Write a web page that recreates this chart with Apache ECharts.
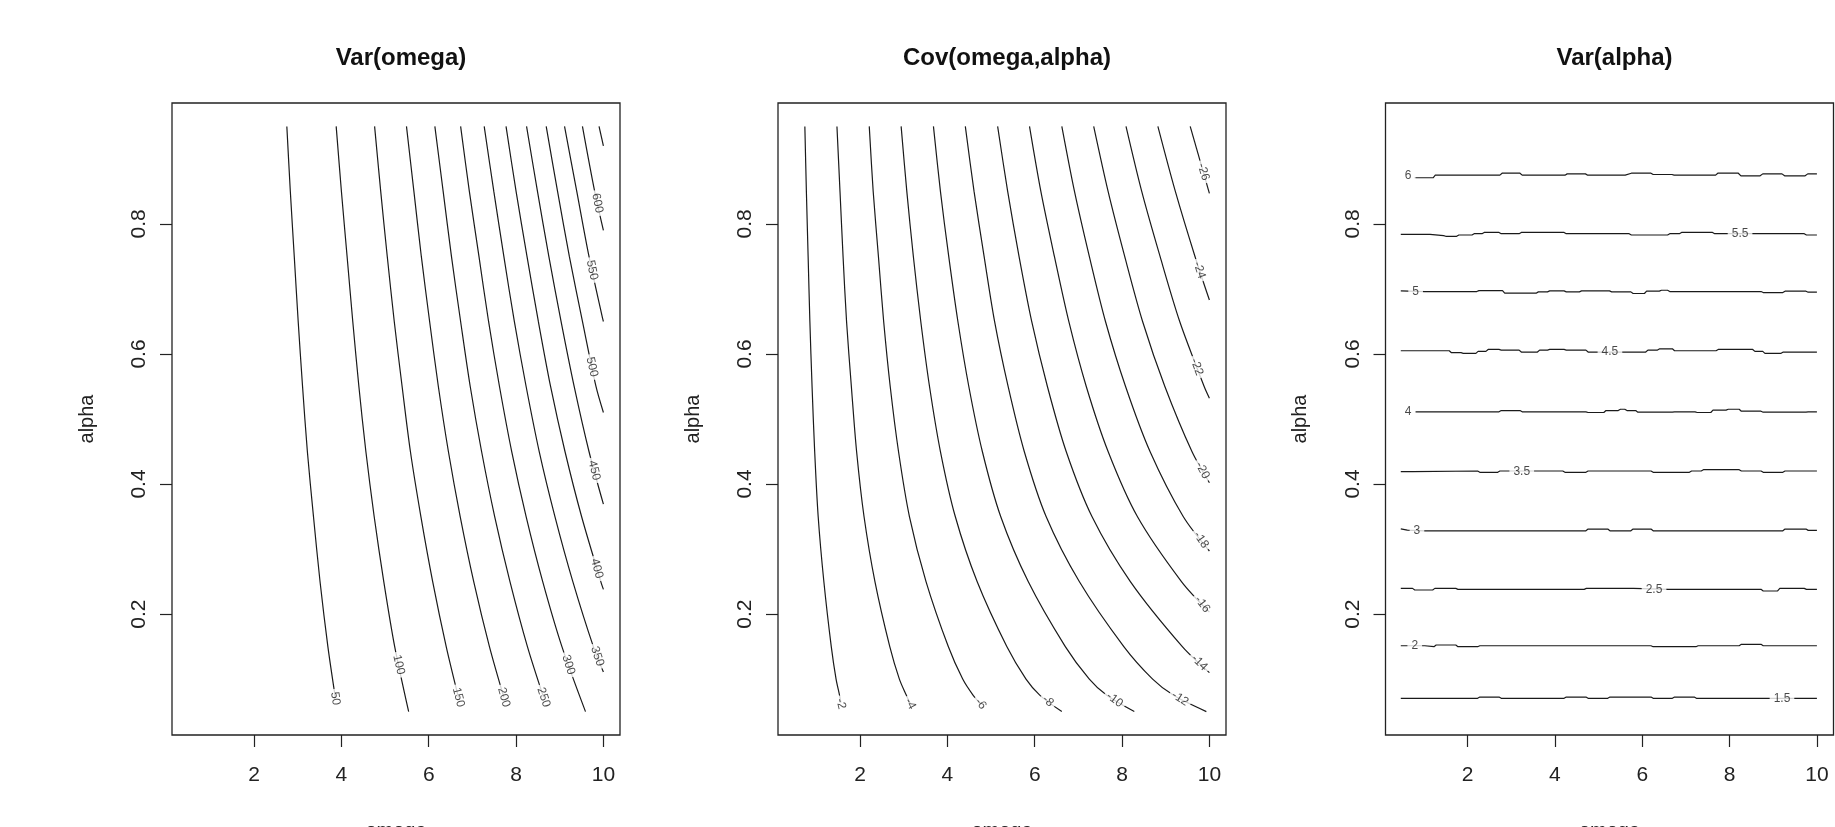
<!DOCTYPE html>
<html>
<head>
<meta charset="utf-8">
<script src="https://cdn.jsdelivr.net/npm/echarts@6/dist/echarts.min.js"></script>
<style>
html,body{margin:0;padding:0;background:#fff;}
#c{width:1835px;height:827px;}
</style>
</head>
<body>
<div id="c"></div>
<script>
// ---------- shared axis data ----------
const panelTitles = ['Var(omega)', 'Cov(omega,alpha)', 'Var(alpha)'];
const xTicks = [2, 4, 6, 8, 10];
const yTicks = [0.2, 0.4, 0.6, 0.8];
const xRange = [0.12, 10.38];
const yRange = [0.014, 0.986];

// ---------- panel 1 : Var(omega) contour lines [omega, alpha] ----------
const vo50  = [[2.75,0.95],[2.83,0.85],[2.92,0.75],[3.01,0.65],[3.11,0.55],[3.22,0.45],[3.36,0.35],[3.51,0.25],[3.69,0.15],[3.86,0.072]];
const vo100 = [[3.88,0.95],[4.00,0.85],[4.13,0.75],[4.26,0.65],[4.40,0.55],[4.56,0.45],[4.75,0.35],[4.97,0.25],[5.22,0.15],[5.54,0.05]];
const vo150 = [[4.76,0.95],[4.90,0.85],[5.05,0.75],[5.21,0.65],[5.39,0.55],[5.58,0.45],[5.82,0.35],[6.09,0.25],[6.40,0.15],[6.68,0.072]];
const vo200 = [[5.49,0.95],[5.66,0.85],[5.83,0.75],[6.02,0.65],[6.22,0.55],[6.45,0.45],[6.72,0.35],[7.03,0.25],[7.39,0.15],[7.72,0.072]];
const vo250 = [[6.14,0.95],[6.33,0.85],[6.52,0.75],[6.73,0.65],[6.95,0.55],[7.21,0.45],[7.51,0.35],[7.86,0.25],[8.26,0.15],[8.63,0.072]];
const vo300 = [[6.73,0.95],[6.93,0.85],[7.15,0.75],[7.37,0.65],[7.62,0.55],[7.90,0.45],[8.23,0.35],[8.61,0.25],[9.05,0.15],[9.59,0.05]];
const vo350 = [[7.27,0.95],[7.49,0.85],[7.72,0.75],[7.96,0.65],[8.23,0.55],[8.53,0.45],[8.89,0.35],[9.30,0.25],[9.77,0.15],[10,0.111]];
const vo400 = [[7.77,0.95],[8.00,0.85],[8.25,0.75],[8.51,0.65],[8.79,0.55],[9.12,0.45],[9.50,0.35],[9.94,0.25],[10,0.238]];
const vo450 = [[8.24,0.95],[8.49,0.85],[8.75,0.75],[9.03,0.65],[9.33,0.55],[9.67,0.45],[10,0.369]];
const vo500 = [[8.69,0.95],[8.95,0.85],[9.22,0.75],[9.52,0.65],[9.83,0.55],[10,0.51]];
const vo550 = [[9.11,0.95],[9.39,0.85],[9.67,0.75],[9.98,0.655],[10,0.65]];
const vo600 = [[9.52,0.95],[9.80,0.85],[10,0.79]];
const vo650 = [[9.90,0.95],[10,0.92]];
const varOmegaLines = [vo50, vo100, vo150, vo200, vo250, vo300, vo350, vo400, vo450, vo500, vo550, vo600, vo650];
const varOmegaLabelText = ['50','100','150','200','250','300','350','400','450','500','550','600'];
const varOmegaLabelPos = [[3.86,0.07],[5.31,0.122],[6.68,0.072],[7.72,0.072],[8.63,0.072],[9.20,0.122],[9.86,0.135],[9.85,0.27],[9.79,0.421],[9.74,0.58],[9.74,0.729],[9.86,0.832]];

// ---------- panel 2 : Cov(omega,alpha) contour lines ----------
const cv2  = [[0.735,0.95],[0.77,0.85],[0.81,0.75],[0.85,0.65],[0.90,0.55],[0.96,0.45],[1.04,0.35],[1.17,0.25],[1.34,0.15],[1.45,0.10],[1.53,0.075],[1.56,0.064]];
const cv4  = [[1.47,0.95],[1.54,0.85],[1.61,0.75],[1.69,0.65],[1.80,0.55],[1.92,0.45],[2.09,0.35],[2.34,0.25],[2.68,0.15],[2.90,0.10],[3.06,0.075],[3.15,0.062]];
const cv6  = [[2.21,0.95],[2.30,0.85],[2.42,0.75],[2.54,0.65],[2.69,0.55],[2.88,0.45],[3.13,0.35],[3.51,0.25],[4.02,0.15],[4.35,0.10],[4.59,0.075],[4.76,0.062]];
const cv8  = [[2.94,0.95],[3.07,0.85],[3.22,0.75],[3.39,0.65],[3.59,0.55],[3.84,0.45],[4.18,0.35],[4.68,0.25],[5.36,0.15],[5.80,0.10],[6.12,0.075],[6.62,0.05]];
const cv10 = [[3.68,0.95],[3.84,0.85],[4.03,0.75],[4.24,0.65],[4.49,0.55],[4.80,0.45],[5.22,0.35],[5.85,0.25],[6.70,0.15],[7.25,0.10],[7.65,0.075],[8.28,0.05]];
const cv12 = [[4.41,0.95],[4.61,0.85],[4.84,0.75],[5.08,0.65],[5.39,0.55],[5.76,0.45],[6.26,0.35],[7.02,0.25],[8.04,0.15],[8.70,0.10],[9.18,0.075],[9.93,0.05]];
const cv14 = [[5.15,0.95],[5.38,0.85],[5.64,0.75],[5.93,0.65],[6.29,0.55],[6.72,0.45],[7.31,0.35],[8.19,0.25],[9.38,0.15],[10,0.11]];
const cv16 = [[5.88,0.95],[6.14,0.85],[6.45,0.75],[6.78,0.65],[7.18,0.55],[7.68,0.45],[8.35,0.35],[9.36,0.25],[10,0.203]];
const cv18 = [[6.62,0.95],[6.91,0.85],[7.25,0.75],[7.62,0.65],[8.08,0.55],[8.64,0.45],[9.40,0.35],[10,0.297]];
const cv20 = [[7.35,0.95],[7.68,0.85],[8.06,0.75],[8.47,0.65],[8.98,0.55],[9.60,0.45],[10,0.402]];
const cv22 = [[8.09,0.95],[8.45,0.85],[8.87,0.75],[9.32,0.65],[9.88,0.55],[10,0.532]];
const cv24 = [[8.82,0.95],[9.22,0.85],[9.67,0.75],[10,0.683]];
const cv26 = [[9.56,0.95],[10,0.847]];
const covLines = [cv2, cv4, cv6, cv8, cv10, cv12, cv14, cv16, cv18, cv20, cv22, cv24, cv26];
const covLabelText = ['-2','-4','-6','-8','-10','-12','-14','-16','-18','-20','-22','-24','-26'];
const covLabelPos = [[1.56,0.062],[3.15,0.062],[4.76,0.062],[6.30,0.066],[7.83,0.068],[9.33,0.070],[9.77,0.125],[9.84,0.215],[9.81,0.314],[9.84,0.421],[9.71,0.58],[9.77,0.729],[9.86,0.88]];

// ---------- panel 3 : Var(alpha) contour lines ----------
const va60 = [[0.78,0.871],[1.21,0.871],[1.26,0.875],[2.74,0.875],[2.79,0.878],[3.20,0.878],[3.25,0.875],[4.23,0.875],[4.28,0.877],[4.70,0.877],[4.75,0.875],[5.61,0.875],[5.75,0.878],[6.20,0.878],[6.25,0.876],[6.68,0.876],[6.73,0.875],[7.68,0.875],[7.73,0.878],[8.20,0.878],[8.26,0.874],[8.70,0.874],[8.76,0.877],[9.20,0.877],[9.26,0.874],[9.73,0.874],[9.79,0.877],[10,0.877]];
const va55 = [[0.47,0.784],[1.14,0.784],[1.18,0.782],[1.45,0.782],[1.50,0.781],[1.75,0.781],[1.80,0.783],[2.10,0.783],[2.15,0.785],[2.33,0.785],[2.38,0.787],[2.72,0.787],[2.77,0.785],[3.18,0.785],[3.23,0.787],[4.21,0.787],[4.26,0.785],[5.70,0.785],[5.75,0.783],[6.58,0.783],[6.63,0.785],[6.85,0.785],[6.90,0.787],[7.61,0.787],[7.66,0.785],[9.71,0.785],[9.76,0.783],[10,0.783]];
const va50 = [[0.47,0.697],[1.02,0.696],[2.21,0.696],[2.26,0.6975],[2.80,0.6975],[2.85,0.6935],[3.57,0.6935],[3.62,0.6955],[3.83,0.6955],[3.88,0.697],[4.21,0.697],[4.26,0.6955],[4.56,0.6955],[4.61,0.697],[5.25,0.697],[5.30,0.6955],[5.74,0.6955],[5.79,0.693],[6.05,0.693],[6.10,0.6966],[6.39,0.6966],[6.44,0.698],[6.58,0.698],[6.63,0.696],[8.72,0.696],[8.77,0.6945],[9.22,0.6945],[9.27,0.6966],[9.75,0.6966],[9.80,0.695],[10,0.695]];
const va45 = [[0.47,0.605],[1.58,0.605],[1.63,0.602],[1.85,0.602],[1.90,0.601],[2.19,0.601],[2.24,0.604],[2.42,0.604],[2.47,0.607],[2.72,0.607],[2.77,0.606],[3.18,0.606],[3.23,0.603],[3.60,0.603],[3.65,0.606],[3.83,0.606],[3.88,0.607],[4.21,0.607],[4.26,0.606],[4.71,0.606],[4.76,0.603],[6.08,0.603],[6.13,0.606],[6.35,0.606],[6.40,0.608],[6.69,0.608],[6.74,0.605],[7.69,0.605],[7.74,0.607],[8.53,0.607],[8.58,0.604],[8.76,0.604],[8.81,0.601],[9.18,0.601],[9.23,0.603],[10,0.603]];
const va40 = [[0.80,0.511],[2.72,0.511],[2.77,0.513],[3.20,0.513],[3.25,0.511],[4.71,0.511],[4.76,0.510],[5.12,0.510],[5.17,0.513],[5.45,0.513],[5.50,0.515],[5.60,0.515],[5.65,0.513],[5.85,0.513],[5.90,0.5105],[6.69,0.5105],[6.74,0.511],[7.21,0.511],[7.26,0.510],[7.57,0.510],[7.62,0.5136],[7.92,0.5136],[7.97,0.515],[8.22,0.515],[8.27,0.512],[8.72,0.512],[8.77,0.5105],[9.75,0.5105],[9.80,0.511],[10,0.511]];
const va35 = [[0.47,0.419],[0.74,0.419],[0.78,0.420],[2.23,0.420],[2.28,0.418],[2.69,0.418],[2.74,0.420],[4.18,0.420],[4.23,0.418],[4.71,0.418],[4.76,0.420],[6.20,0.420],[6.25,0.418],[7.08,0.418],[7.13,0.420],[7.35,0.420],[7.40,0.422],[8.22,0.422],[8.27,0.420],[8.72,0.420],[8.77,0.418],[9.22,0.418],[9.27,0.420],[10,0.420]];
const va30 = [[0.47,0.331],[0.62,0.329],[1.02,0.328],[4.71,0.328],[4.76,0.3307],[5.21,0.3307],[5.26,0.328],[5.74,0.328],[5.79,0.3307],[6.20,0.3307],[6.25,0.328],[9.22,0.328],[9.27,0.3307],[9.75,0.3307],[9.80,0.3287],[10,0.3287]];
const va25 = [[0.47,0.2395],[0.74,0.2395],[0.79,0.237],[1.20,0.237],[1.25,0.2395],[1.73,0.2395],[1.78,0.238],[4.67,0.238],[4.72,0.2395],[5.80,0.2395],[6.60,0.238],[8.72,0.238],[8.77,0.2355],[9.10,0.2355],[9.15,0.2395],[9.71,0.2395],[9.76,0.238],[10,0.238]];
const va20 = [[0.47,0.1513],[1.02,0.1513],[1.23,0.1498],[1.28,0.1524],[1.73,0.1524],[1.78,0.1498],[2.23,0.1498],[2.28,0.1513],[6.20,0.1513],[6.25,0.1498],[7.23,0.1498],[7.28,0.1513],[8.22,0.1513],[8.27,0.1534],[8.72,0.1534],[8.77,0.1513],[10,0.1513]];
const va15 = [[0.47,0.0704],[2.23,0.0704],[2.28,0.0724],[2.72,0.0724],[2.77,0.0704],[4.21,0.0704],[4.26,0.0724],[4.71,0.0724],[4.76,0.0704],[5.21,0.0704],[5.26,0.0724],[6.20,0.0724],[6.25,0.0704],[6.69,0.0704],[6.74,0.0724],[7.19,0.0724],[7.24,0.0704],[10,0.0704]];
const varAlphaLines = [va60, va55, va50, va45, va40, va35, va30, va25, va20, va15];
const varAlphaLabelText = ['6','5.5','5','4.5','4','3.5','3','2.5','2','1.5'];
const varAlphaLabelPos = [[0.64,0.874],[8.24,0.785],[0.81,0.696],[5.26,0.604],[0.64,0.511],[3.24,0.419],[0.84,0.328],[6.27,0.238],[0.79,0.151],[9.20,0.070]];

// ---------- styling (kept out of the data) ----------
const FF = '"Liberation Sans", Arial, Helvetica, sans-serif';
const INK = '#1a1a1a';
const gridLefts = [172, 778, 1385.5];
const gridW = 448, gridTop = 103, gridH = 632;
const varOmegaAngles = [-81,-77,-76,-75,-72,-72,-72,-74,-76,-77,-78,-79];
const covAngles = [-76,-62,-52,-42,-36,-32,-45,-52,-56,-62,-69,-72,-74];
const varAlphaAngles = varAlphaLabelText.map(() => 0);

function lineSeries(lines, idx, smooth) {
  return lines.map(pts => ({
    type: 'line', xAxisIndex: idx, yAxisIndex: idx, data: pts,
    showSymbol: false, symbol: 'none', smooth: smooth, silent: true, z: 2,
    lineStyle: { color: INK, width: 1.2 }
  }));
}
function labelSeries(pos, texts, angles, idx, pad) {
  return {
    type: 'scatter', xAxisIndex: idx, yAxisIndex: idx, symbolSize: 0, silent: true, z: 6,
    data: pos.map((p, i) => ({ value: p, name: texts[i], label: { rotate: angles[i] } })),
    label: {
      show: true, position: 'inside', formatter: p => p.name,
      fontSize: 12, fontFamily: FF, color: INK,
      backgroundColor: '#ffffff', padding: pad
    }
  };
}

const grids = [], xAxes = [], yAxes = [], titles = [];
for (let i = 0; i < 3; i++) {
  grids.push({ left: gridLefts[i], top: gridTop, width: gridW, height: gridH,
    show: true, borderColor: '#222', borderWidth: 1.3, backgroundColor: 'transparent',
    containLabel: false, outerBoundsMode: 'none' });
  xAxes.push({
    type: 'value', gridIndex: i, min: xRange[0], max: xRange[1],
    name: 'omega', nameLocation: 'middle', nameGap: 86,
    nameTextStyle: { fontSize: 20, color: '#222', fontFamily: FF },
    axisLine: { show: false },
    axisTick: { show: true, length: 12, lineStyle: { color: '#222', width: 1.2 }, customValues: xTicks },
    axisLabel: { customValues: xTicks, fontSize: 21, color: '#222', margin: 30, fontFamily: FF },
    splitLine: { show: false }
  });
  yAxes.push({
    type: 'value', gridIndex: i, min: yRange[0], max: yRange[1],
    name: 'alpha', nameLocation: 'middle', nameGap: 75, nameRotate: 90,
    nameTextStyle: { fontSize: 20, color: '#222', fontFamily: FF },
    axisLine: { show: false },
    axisTick: { show: true, length: 12, lineStyle: { color: '#222', width: 1.2 }, customValues: yTicks },
    axisLabel: { customValues: yTicks, rotate: 90, fontSize: 21, color: '#222', margin: 22, fontFamily: FF },
    splitLine: { show: false }
  });
  titles.push({ text: panelTitles[i], left: gridLefts[i] + gridW / 2, top: 41, textAlign: 'center',
    textStyle: { fontSize: 24, fontWeight: 'bold', color: '#111', fontFamily: FF } });
}

const series = [].concat(
  lineSeries(varOmegaLines, 0, 0.3),
  [labelSeries(varOmegaLabelPos, varOmegaLabelText, varOmegaAngles, 0, [0, 3])],
  lineSeries(covLines, 1, 0.3),
  [labelSeries(covLabelPos, covLabelText, covAngles, 1, [0, 3])],
  lineSeries(varAlphaLines, 2, false),
  [labelSeries(varAlphaLabelPos, varAlphaLabelText, varAlphaAngles, 2, [0, 4])]
);

const chart = echarts.init(document.getElementById('c'), null, { renderer: 'canvas' });
chart.setOption({
  animation: false,
  backgroundColor: '#ffffff',
  title: titles,
  grid: grids,
  xAxis: xAxes,
  yAxis: yAxes,
  series: series
});
</script>
</body>
</html>
